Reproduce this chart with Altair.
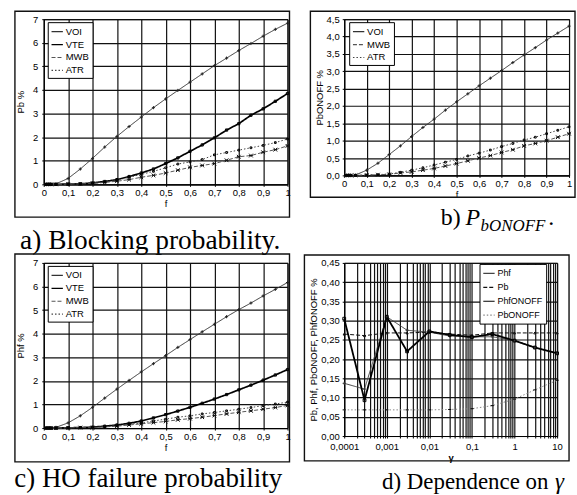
import altair as alt
import pandas as pd

# ---------------- data ----------------
f_vals = [0.01, 0.02, 0.03, 0.05, 0.1, 0.15, 0.2, 0.25, 0.3, 0.35, 0.4, 0.45,
          0.5, 0.55, 0.6, 0.65, 0.7, 0.75, 0.8, 0.85, 0.9, 0.95, 1.0]

# a) Blocking probability
voi_a = [0, 0, 0, 0.02, 0.25, 0.65, 1.1, 1.58, 2.03, 2.45, 2.85, 3.25, 3.62, 3.98,
         4.33, 4.68, 5.03, 5.35, 5.67, 5.97, 6.28, 6.57, 6.83]
vte_a = [0, 0, 0, 0, 0.01, 0.02, 0.06, 0.12, 0.2, 0.33, 0.48, 0.65, 0.88, 1.12,
         1.4, 1.67, 1.97, 2.3, 2.57, 2.93, 3.2, 3.52, 3.85]
mwb_a = [0, 0, 0, 0, 0.01, 0.02, 0.04, 0.08, 0.13, 0.2, 0.3, 0.38, 0.48, 0.6,
         0.72, 0.8, 0.88, 1.02, 1.17, 1.22, 1.36, 1.47, 1.63]
atr_a = [0, 0, 0, 0, 0.01, 0.02, 0.05, 0.1, 0.17, 0.3, 0.42, 0.55, 0.7, 0.86,
         0.95, 1.05, 1.25, 1.35, 1.45, 1.55, 1.65, 1.77, 1.92]

# b) PbONOFF
voi_b = [0, 0, 0, 0.01, 0.15, 0.35, 0.6, 0.85, 1.12, 1.38, 1.62, 1.88, 2.12, 2.35,
         2.58, 2.8, 3.02, 3.25, 3.47, 3.68, 3.9, 4.1, 4.3]
mwb_b = [0, 0, 0, 0, 0.01, 0.02, 0.03, 0.07, 0.1, 0.15, 0.2, 0.27, 0.34, 0.42,
         0.5, 0.57, 0.66, 0.74, 0.85, 0.92, 1.0, 1.1, 1.2]
atr_b = [0, 0, 0, 0, 0.01, 0.02, 0.04, 0.09, 0.15, 0.22, 0.3, 0.38, 0.46, 0.56,
         0.64, 0.73, 0.83, 0.92, 1.02, 1.1, 1.2, 1.3, 1.4]

# c) HO failure probability
voi_c = [0, 0, 0, 0.03, 0.22, 0.52, 0.88, 1.27, 1.65, 2.02, 2.38, 2.73, 3.07, 3.42,
         3.75, 4.08, 4.4, 4.72, 5.02, 5.3, 5.6, 5.88, 6.17]
vte_c = [0, 0, 0, 0, 0.01, 0.02, 0.04, 0.08, 0.13, 0.2, 0.3, 0.43, 0.57, 0.72,
         0.88, 1.05, 1.23, 1.42, 1.62, 1.82, 2.03, 2.25, 2.48]
mwb_c = [0, 0, 0, 0, 0.01, 0.02, 0.02, 0.05, 0.08, 0.13, 0.18, 0.23, 0.28, 0.35,
         0.4, 0.46, 0.53, 0.6, 0.67, 0.73, 0.8, 0.87, 0.96]
atr_c = [0, 0, 0, 0, 0.01, 0.02, 0.03, 0.06, 0.1, 0.16, 0.22, 0.3, 0.38, 0.46,
         0.52, 0.6, 0.66, 0.73, 0.8, 0.87, 0.95, 1.02, 1.1]

# d) Dependence on gamma
gamma_vals = [0.0001, 0.0003, 0.001, 0.003, 0.01, 0.03, 0.1, 0.3, 1, 3, 10]
phf_d = [0.137, 0.122, 0.31, 0.275, 0.27, 0.26, 0.258, 0.258, 0.248, 0.23, 0.215]
pb_d = [0.265, 0.261, 0.268, 0.268, 0.27, 0.265, 0.262, 0.268, 0.268, 0.268, 0.268]
phfonoff_d = [0.305, 0.093, 0.31, 0.22, 0.272, 0.263, 0.257, 0.265, 0.248, 0.23, 0.215]
pbonoff_d = [0.068, 0.068, 0.068, 0.068, 0.068, 0.069, 0.071, 0.079, 0.096, 0.12, 0.145]

# tick values / labels
f_ticks = [0, 0.1, 0.2, 0.3, 0.4, 0.5, 0.6, 0.7, 0.8, 0.9, 1.0]
y_ticks_ac = [0, 1, 2, 3, 4, 5, 6, 7]
y_ticks_b = [0, 0.5, 1, 1.5, 2, 2.5, 3, 3.5, 4, 4.5]
y_ticks_d = [0, 0.05, 0.1, 0.15, 0.2, 0.25, 0.3, 0.35, 0.4, 0.45]
decades = [0.0001, 0.001, 0.01, 0.1, 1]
log_ticks = [d * k for d in decades for k in range(1, 10)] + [10]

FONT = "Liberation Sans"
SERIF = "Liberation Serif, Times New Roman, serif"

# ---------------- styles ----------------
X_SHAPE = "M-1,-1L1,1M-1,1L1,-1M-1,0L1,0"
PLUS = "M-1,0L1,0M0,-1L0,1"
DASH = "M-1,0L1,0"

st_abc = {
    "VOI": dict(color="#333333", dash=[1, 0], width=1.0, shape=PLUS, size=10, mc="#222222"),
    "VTE": dict(color="#000000", dash=[1, 0], width=1.7, shape="square", size=5, mc="#000000"),
    "MWB": dict(color="#555555", dash=[4, 2], width=1.0, shape=X_SHAPE, size=14, mc="#111111"),
    "ATR": dict(color="#444444", dash=[1.5, 2], width=1.0, shape="square", size=3, mc="#000000"),
}
st_d = {
    "Phf": dict(color="#444444", dash=[1, 0], width=1.0, shape=PLUS, size=10, mc="#333333"),
    "Pb": dict(color="#111111", dash=[4, 2], width=1.0, shape="triangle-up", size=5, mc="#111111"),
    "PhfONOFF": dict(color="#000000", dash=[1, 0], width=1.8, shape="square", size=8, mc="#000000"),
    "PbONOFF": dict(color="#888888", dash=[1.5, 2], width=1.0, shape=DASH, size=10, mc="#000000"),
}


def long_df(xs, series):
    rows = []
    for name, ys in series.items():
        for x, y in zip(xs, ys):
            rows.append({"x": x, "value": y, "series": name})
    return pd.DataFrame(rows)


def one_row():
    return alt.Data(values=[{"k": 1}])


def frame_layer(x1, y1, x2, y2):
    return alt.Chart(one_row()).mark_rect(
        filled=False, stroke="#111111", strokeWidth=1.4
    ).encode(x=alt.value(x1), x2=alt.value(x2), y=alt.value(y1), y2=alt.value(y2))


def text_layer(text, x, y, size=27.5, align="center", style="normal"):
    return alt.Chart(one_row()).mark_text(
        text=text, font=SERIF, fontSize=size, align=align, baseline="alphabetic",
        fontStyle=style, color="black"
    ).encode(x=alt.value(x), y=alt.value(y))


def panel(df, styles, xscale, xaxis, yscale, yaxis, legend_xy, w, h, frame, texts,
          legend_font=9.5):
    names = list(styles.keys())
    legend = alt.Legend(
        title=None, orient="none", legendX=legend_xy[0], legendY=legend_xy[1],
        fillColor="white", strokeColor="black", padding=3, symbolType="stroke",
        symbolSize=130, symbolStrokeWidth=1.2, labelFont=FONT, labelFontSize=legend_font,
        labelColor="black", rowPadding=2, labelOffset=2, cornerRadius=0,
    )
    thick = [n for n in names if styles[n]["width"] > 1.2]
    if thick:
        cond = " || ".join(f"datum.series == '{n}'" for n in thick)
        sw_expr = f"({cond}) ? {max(styles[n]['width'] for n in names)} : 1"
    else:
        sw_expr = "1"
    x = alt.X("x:Q", scale=xscale, axis=xaxis)
    y = alt.Y("value:Q", scale=yscale, axis=yaxis)
    lines = alt.Chart(df).transform_calculate(sw=sw_expr).mark_line().encode(
        x=x, y=y,
        color=alt.Color("series:N", scale=alt.Scale(domain=names, range=[styles[n]["color"] for n in names]), legend=legend),
        strokeDash=alt.StrokeDash("series:N", scale=alt.Scale(domain=names, range=[styles[n]["dash"] for n in names]), legend=legend),
        strokeWidth=alt.StrokeWidth("sw:Q", scale=None, legend=None),
    )
    pts = []
    for n in names:
        s = styles[n]
        pts.append(
            alt.Chart(df).transform_filter(alt.datum.series == n).mark_point(
                shape=s["shape"], size=s["size"], filled=False, stroke=s["mc"],
                strokeWidth=1, opacity=1
            ).encode(x=x, y=y)
        )
    layers = [frame_layer(*frame), lines] + pts + texts
    return alt.layer(*layers).properties(width=w, height=h)


def f_axis():
    return alt.Axis(values=f_ticks, title="f", labelExpr="replace(format(datum.value, '~g'), '.', ',')",
                    labelPadding=1, titlePadding=2, labelFlush=False)


# ---------------- panels ----------------
df_a = long_df(f_vals, {"VOI": voi_a, "VTE": vte_a, "MWB": mwb_a, "ATR": atr_a})
df_b = long_df(f_vals, {"VOI": voi_b, "MWB": mwb_b, "ATR": atr_b})
df_c = long_df(f_vals, {"VOI": voi_c, "VTE": vte_c, "MWB": mwb_c, "ATR": atr_c})
df_d = long_df(gamma_vals, {"Phf": phf_d, "Pb": pb_d, "PhfONOFF": phfonoff_d, "PbONOFF": pbonoff_d})

fx = alt.Scale(domain=[0, 1], nice=False)

pa = panel(
    df_a, st_abc, fx, f_axis(), alt.Scale(domain=[0, 7], nice=False),
    alt.Axis(values=y_ticks_ac, title="Pb %", labelPadding=4, titlePadding=7, labelFlush=False),
    (4, 3), 245, 166, (-29, -8, 247, 199),
    [text_layer("a) Blocking probability.", 107, 231)],
)

st_b = {k: st_abc[k] for k in ["VOI", "MWB", "ATR"]}
pb = panel(
    df_b, st_b, fx, f_axis(), alt.Scale(domain=[0, 4.5], nice=False),
    alt.Axis(values=y_ticks_b, title="PbONOFF %", labelPadding=3, titlePadding=2, labelFlush=False,
             labelExpr="replace(format(datum.value, '.1f'), '.', ',')"),
    (5, 3), 226, 157, (-34, -8, 232, 179),
    [text_layer("b)", 97, 207, size=24, align="left"),
     text_layer("P", 122, 207, size=24, align="left", style="italic"),
     text_layer("bONOFF", 137, 213, size=17, align="left", style="italic"),
     text_layer(".", 205, 207, size=24, align="left")],
)

pc = panel(
    df_c, st_abc, fx, f_axis(), alt.Scale(domain=[0, 7], nice=False),
    alt.Axis(values=y_ticks_ac, title="Phf %", labelPadding=4, titlePadding=7, labelFlush=False),
    (4, 3), 245, 166, (-29, -9, 247, 200),
    [text_layer("c) HO failure probability", 105, 225, size=27)],
)

pd_ = panel(
    df_d, st_d,
    alt.Scale(type="log", domain=[0.0001, 10], nice=False),
    alt.Axis(values=log_ticks, title="γ", titleFontWeight="bold", labelOverlap=False, labelFlush=False,
             labelExpr="abs(log(datum.value)/LN10 - round(log(datum.value)/LN10)) < 0.001 ? replace(format(datum.value, '~g'), '.', ',') : ''",
             labelPadding=4, titlePadding=1),
    alt.Scale(domain=[0, 0.45], nice=False),
    alt.Axis(values=y_ticks_d, title="Pb, Phf, PbONOFF, PhfONOFF %", labelPadding=3, titlePadding=2,
             labelFlush=False, labelExpr="replace(format(datum.value, '.2f'), '.', ',')"),
    (136, 1), 214, 174, (-40, -8, 226, 199),
    [text_layer("d) Dependence on ", 38, 227, size=23, align="left"),
     text_layer("γ", 212, 227, size=23, align="left", style="italic")],
    legend_font=9,
)

chart = alt.concat(
    pa, pb, pc, pd_, columns=2,
    spacing={"row": 79, "column": 57},
    bounds="flush", align="each", center={"row": False, "column": True},
).resolve_scale(
    color="independent", strokeDash="independent"
).resolve_legend(
    color="independent", strokeDash="independent"
).properties(
    padding={"left": 13, "top": 8, "right": 0, "bottom": 0},
    background="white",
).configure_view(
    stroke="black", strokeWidth=1
).configure_axis(
    labelFont=FONT, labelFontSize=9.5, labelColor="black",
    titleFont=FONT, titleFontSize=9.5, titleFontWeight="normal", titleColor="black",
    grid=True, gridColor="#111111", gridOpacity=1, gridWidth=1.2,
    domainColor="black", tickColor="black", tickSize=2,
)

chart.save("out.html", embed_options={"renderer": "svg", "actions": False})
